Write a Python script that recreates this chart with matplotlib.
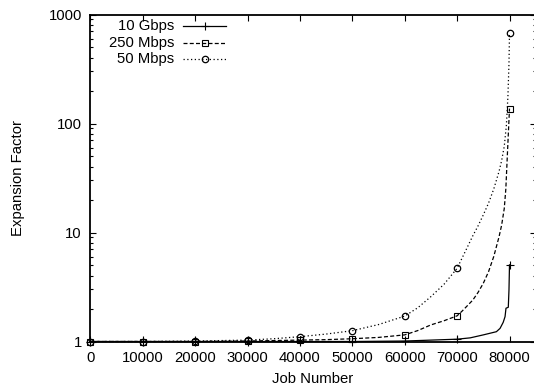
import numpy as np
import matplotlib
matplotlib.use("Agg")
import matplotlib.pyplot as plt
from matplotlib.ticker import LogLocator, FixedLocator, NullFormatter

plt.rcParams['font.family'] = ['Liberation Sans', 'DejaVu Sans']

# Expansion factor per job number for three link speeds
jobs_10g = [0, 10000, 20000, 30000, 40000, 50000, 60000, 70000, 72500, 75000,
            77500, 78200, 78800, 79150, 79330, 79770, 79900, 80000]
exp_10g = [1.0, 1.0, 1.0, 1.0, 1.0, 1.0, 1.01, 1.05, 1.08, 1.15,
           1.23, 1.32, 1.5, 1.69, 2.02, 2.06, 2.97, 5.05]

jobs_250m = [0, 10000, 20000, 30000, 40000, 45000, 50000, 55000, 60000, 62500,
             65000, 67500, 70000, 71000, 72000, 73000, 74000, 75000, 76000, 77000,
             78000, 78500, 79000, 79300, 79600, 79800, 80000]
exp_250m = [1.0, 1.0, 1.0, 1.01, 1.03, 1.04, 1.06, 1.09, 1.15, 1.26,
            1.42, 1.55, 1.72, 1.91, 2.14, 2.40, 2.82, 3.42, 4.37, 6.03,
            9.12, 11.7, 16.6, 25.1, 52.5, 85.1, 137.0]

jobs_50m = [0, 10000, 20000, 30000, 35000, 40000, 45000, 50000, 55000, 60000,
            62500, 65000, 67500, 70000, 72000, 73000, 74000, 75000, 76000, 77000,
            78000, 78500, 79000, 79400, 79700, 79900, 80000]
exp_50m = [1.0, 1.0, 1.01, 1.03, 1.06, 1.107, 1.17, 1.256, 1.43, 1.71,
           2.04, 2.58, 3.35, 4.69, 7.41, 9.33, 11.5, 14.5, 18.6, 25.1,
           36.3, 45.7, 61.7, 95.5, 178.0, 355.0, 672.0]

labels = ["10 Gbps", "250 Mbps", "50 Mbps"]
x_ticks = [0, 10000, 20000, 30000, 40000, 50000, 60000, 70000, 80000]

W, H = 534, 387
fig = plt.figure(figsize=(W / 100, H / 100), dpi=100)
ax = fig.add_axes([90.3 / W, 45.5 / H, (535.7 - 90.3) / W, (341.5 - 14.5) / H])

def marks(xs):
    return [i for i, v in enumerate(xs) if v % 10000 == 0]

FS = 10.7
series = [
    (jobs_10g, exp_10g, dict(linestyle='-', marker='+', markersize=5.5,
                             markeredgewidth=0.8, linewidth=0.9)),
    (jobs_250m, exp_250m, dict(linestyle=(0, (3.2, 1.8)), marker='s', markersize=5,
                               markerfacecolor='none', markeredgewidth=0.8, linewidth=0.9)),
    (jobs_50m, exp_50m, dict(linestyle=(0, (1.0, 2.0)), marker='o', markersize=4.6,
                             markerfacecolor='none', markeredgewidth=0.9, linewidth=0.9)),
]

for (xs, ys, st), lab in zip(series, labels):
    ax.plot(xs, ys, color='black', markevery=marks(xs), clip_on=False, **st)

ax.set_yscale('log')
ax.set_xlim(0, 85000)
ax.set_ylim(1, 1000)
ax.xaxis.set_major_locator(FixedLocator(x_ticks))
ax.set_xticklabels([str(v) for v in x_ticks])
ax.yaxis.set_major_locator(FixedLocator([1, 10, 100, 1000]))
ax.set_yticklabels(["1", "10", "100", "1000"])
ax.yaxis.set_minor_locator(LogLocator(base=10, subs=np.arange(2, 10)))
ax.yaxis.set_minor_formatter(NullFormatter())

ax.tick_params(which='both', direction='in', top=True, right=True,
               labelsize=FS, width=0.8, colors='black')
ax.tick_params(which='major', length=4.2)
ax.tick_params(axis='x', which='major', pad=7)
ax.tick_params(axis='y', which='major', pad=6)
ax.tick_params(which='minor', length=2.2)
ax.tick_params(axis='x', which='minor', bottom=False, top=False)
for s in ax.spines.values():
    s.set_linewidth(1.3)

ax.set_xlabel("Job Number", fontsize=FS, labelpad=5)
ax.set_ylabel("Expansion Factor", fontsize=FS, labelpad=17)

# legend: right-aligned labels followed by line samples
leg_y = [26, 42.7, 58.7]
for (xs, ys, st), lab, py in zip(series, labels, leg_y):
    yf = 1 - py / H
    fig.text(174 / W, yf, lab, ha='right', va='center', fontsize=FS)
    fig.add_artist(plt.Line2D([183 / W, 226 / W], [yf, yf], color='black',
                              linestyle=st['linestyle'], linewidth=st['linewidth']))
    mst = {k: v for k, v in st.items() if k not in ('linestyle', 'linewidth')}
    fig.add_artist(plt.Line2D([204.5 / W], [yf], color='black', linestyle='none', **mst))

fig.savefig("out.png", dpi=100)
